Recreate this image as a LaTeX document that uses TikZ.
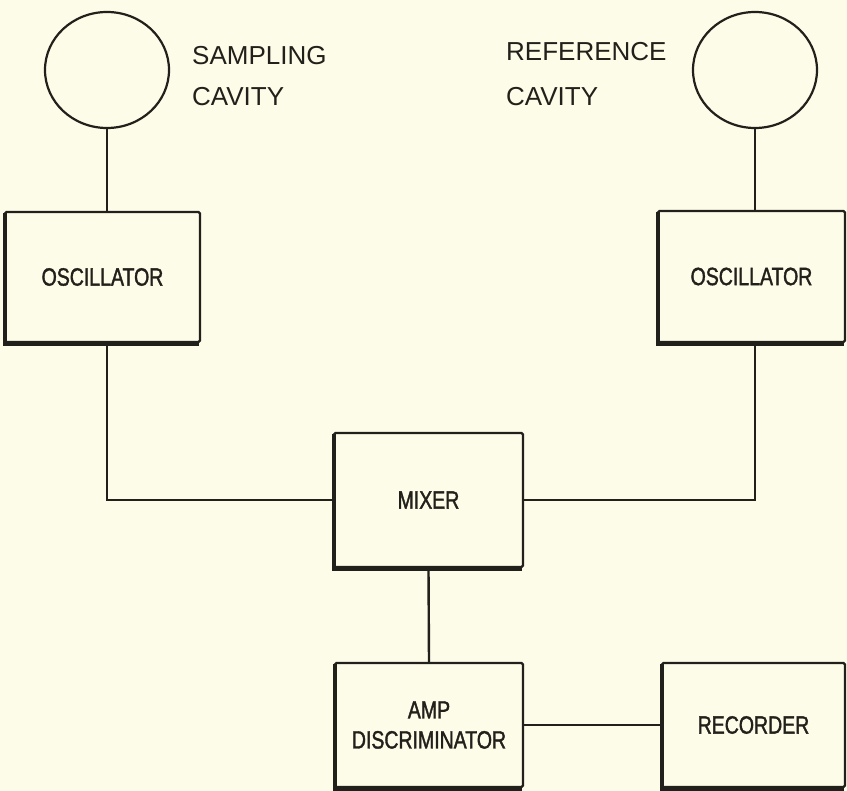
\documentclass[tikz,border=0pt]{standalone}
\usepackage{fontspec}
\setmainfont{Liberation Sans}
\newfontfamily\boxfont[FakeStretch=0.78,FakeBold=1.4]{Liberation Sans}
\usetikzlibrary{shapes.geometric}
\definecolor{paper}{RGB}{253,252,232}
\definecolor{ink}{RGB}{34,32,26}
\begin{document}
\begin{tikzpicture}[x=1pt,y=-1pt,
  blockbox/.style={draw=ink, line width=2.4pt, rectangle, rounded corners=1.5pt, inner sep=0pt,
     font=\boxfont\fontsize{25}{30}\selectfont, text=ink, align=center},
  cavity/.style={draw=ink, line width=2.2pt, ellipse, inner sep=0pt, minimum width=124pt, minimum height=116pt},
  caption/.style={anchor=base west, inner sep=0pt, font=\fontsize{26}{30}\selectfont, text=ink},
  wire/.style={draw=ink, line width=2.4pt},
  shade/.style={draw=ink, line width=4.5pt}]
\fill[paper] (0,0) rectangle (847,791);
\useasboundingbox (0,0) rectangle (847,791);

\node[cavity] (lc) at (107,70) {};
\node[cavity] (rc) at (755,70) {};
\node[caption] (t1) at (192,65) {SAMPLING};
\node[caption] (t2) at (192,106) {CAVITY};
\node[caption] (t3) at (506,61) {REFERENCE};
\node[caption] (t4) at (506,106) {CAVITY};

\node[blockbox, minimum width=195pt, minimum height=130pt] (lo) at (102.5,277) {OSCILLATOR};
\node[blockbox, minimum width=187pt, minimum height=131pt] (ro) at (751.5,276.5) {OSCILLATOR};
\node[blockbox, minimum width=189pt, minimum height=134pt] (mix) at (428.5,500) {MIXER};
\node[blockbox, minimum width=188pt, minimum height=124pt] (amp) at (429,725) {AMP\\DISCRIMINATOR};
\node[blockbox, minimum width=183pt, minimum height=124pt] (rec) at (753.5,725) {RECORDER};

\foreach \b in {lo,ro,mix,amp,rec}{
  \draw[shade] ([xshift=1pt,yshift=-2pt]\b.north west) -- ([xshift=1pt,yshift=-1pt]\b.south west) -- ([xshift=-2pt,yshift=-1pt]\b.south east);
}

\draw[wire] (lc.south) -- (lc.south |- lo.north);
\draw[wire] (rc.south) -- (rc.south |- ro.north);
\draw[wire] (lc.south |- lo.south) |- (mix.west);
\draw[wire] (rc.south |- ro.south) |- (mix.east);
\draw[wire] (mix.south) -- (amp.north);
\draw[wire] (amp.east) -- (rec.west);
\end{tikzpicture}
\end{document}
